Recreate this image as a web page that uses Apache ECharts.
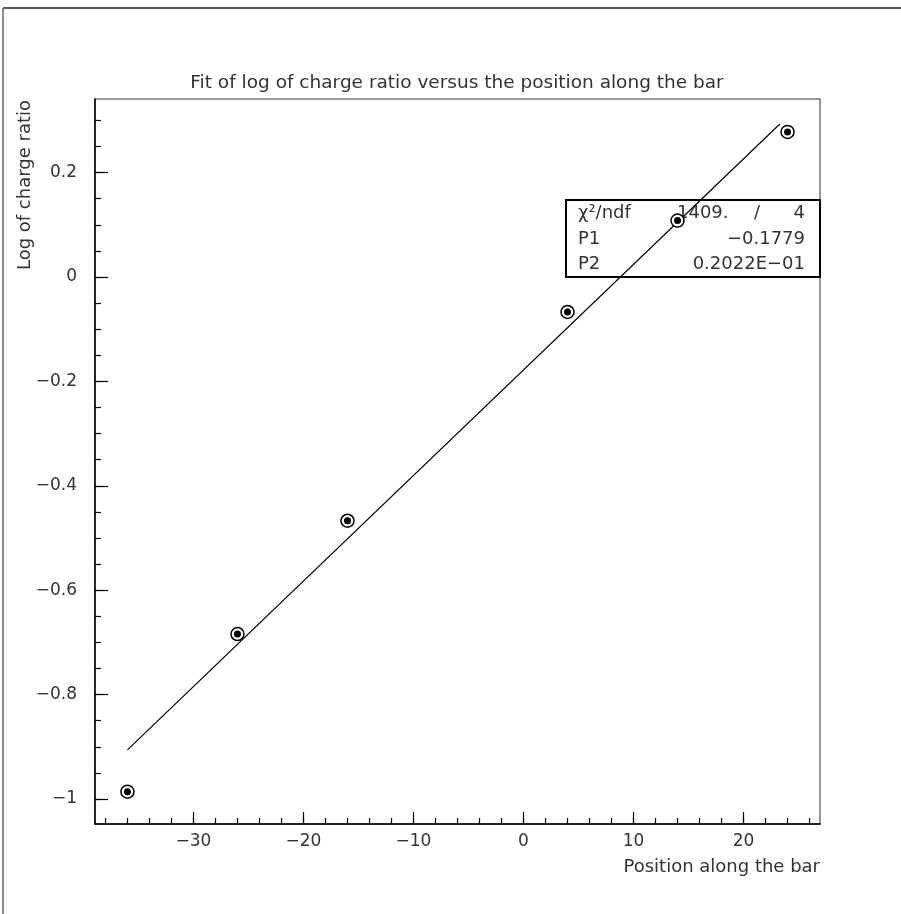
<!DOCTYPE html>
<html>
<head>
<meta charset="utf-8">
<script src="https://cdn.jsdelivr.net/npm/echarts@6/dist/echarts.min.js"></script>
<style>
  html, body { margin: 0; padding: 0; background: #fff; }
  #chart { width: 901px; height: 914px; }
</style>
</head>
<body>
<div id="chart"></div>
<script>
const chart = echarts.init(document.getElementById('chart'));

// measured points (position, log of charge ratio)
const positions = [-36, -26, -16, 4, 14, 24];
const logRatio = [-0.986, -0.684, -0.467, -0.067, 0.108, 0.278];
// fit line end points
const fitLine = [[-36, -0.906], [23.3, 0.293]];

// axis ticks
const xMajor = [-30, -20, -10, 0, 10, 20];
const xMinor = [-38, -36, -34, -32, -30, -28, -26, -24, -22, -20, -18, -16, -14, -12, -10, -8, -6, -4, -2,
    0, 2, 4, 6, 8, 10, 12, 14, 16, 18, 20, 22, 24, 26];
const yMajor = [-1, -0.8, -0.6, -0.4, -0.2, 0, 0.2];
const yMinor = [-1, -0.95, -0.9, -0.85, -0.8, -0.75, -0.7, -0.65, -0.6, -0.55, -0.5, -0.45, -0.4, -0.35,
    -0.3, -0.25, -0.2, -0.15, -0.1, -0.05, 0, 0.05, 0.1, 0.15, 0.2, 0.25, 0.3];

// fit statistics box
const statNames = ['χ²/ndf', 'P1', 'P2'];
const statValues = ['', '−0.1779', '0.2022E−01'];

const font = 'DejaVu Sans';
const txt = '#333';
const xRange = [-38.95, 26.95];
const yRange = [-1.048, 0.341];

const minus = v => String(v).replace('-', '−');

function boxText(x, y, text, align) {
    return {
        type: 'text', x: x, y: y,
        style: { text: text, font: '18px "DejaVu Sans"', fill: txt, align: align || 'left', verticalAlign: 'middle' }
    };
}

var option = {
    animation: false,
    grid: {
        left: 95,
        top: 99,
        right: 81,
        bottom: 90,
        show: true,
        borderColor: '#777',
        borderWidth: 1.5
    },
    xAxis: [{
        type: 'value',
        position: 'bottom',
        min: xRange[0],
        max: xRange[1],
        splitLine: { show: false },
        axisLine: { onZero: false, lineStyle: { color: '#000', width: 1.5 } },
        axisTick: { inside: true, length: 12, customValues: xMajor, lineStyle: { color: '#000', width: 1.2 } },
        axisLabel: {
            customValues: xMajor,
            margin: 9,
            fontFamily: font,
            fontSize: 17,
            color: txt,
            formatter: minus
        }
    }, {
        type: 'value',
        position: 'bottom',
        min: xRange[0],
        max: xRange[1],
        splitLine: { show: false },
        axisLine: { show: false, onZero: false },
        axisTick: { inside: true, length: 6, customValues: xMinor, lineStyle: { color: '#000', width: 1.2 } },
        axisLabel: { show: false }
    }],
    yAxis: [{
        type: 'value',
        position: 'left',
        min: yRange[0],
        max: yRange[1],
        splitLine: { show: false },
        axisLine: { onZero: false, lineStyle: { color: '#000', width: 1.5 } },
        axisTick: { inside: true, length: 13, customValues: yMajor, lineStyle: { color: '#000', width: 1.2 } },
        axisLabel: {
            customValues: yMajor,
            margin: 18,
            fontFamily: font,
            fontSize: 17,
            color: txt,
            formatter: minus
        }
    }, {
        type: 'value',
        position: 'left',
        min: yRange[0],
        max: yRange[1],
        splitLine: { show: false },
        axisLine: { show: false, onZero: false },
        axisTick: { inside: true, length: 6, customValues: yMinor, lineStyle: { color: '#000', width: 1.2 } },
        axisLabel: { show: false }
    }],
    graphic: [
        // page frame
        { type: 'line', shape: { x1: 3, y1: 8, x2: 901, y2: 8 }, style: { stroke: '#222', lineWidth: 1.5 } },
        { type: 'line', shape: { x1: 3, y1: 8, x2: 3, y2: 914 }, style: { stroke: '#666', lineWidth: 1.5 } },
        {
            type: 'text', x: 457, y: 83,
            style: {
                text: 'Fit of log of charge ratio versus the position along the bar',
                font: '18.5px "DejaVu Sans"', fill: txt, align: 'center', verticalAlign: 'middle'
            }
        },
        {
            type: 'text', x: 820, y: 867,
            style: { text: 'Position along the bar', font: '18px "DejaVu Sans"', fill: txt, align: 'right', verticalAlign: 'middle' }
        },
        {
            type: 'text', x: 25, y: 100, rotation: Math.PI / 2,
            style: { text: 'Log of charge ratio', font: '18px "DejaVu Sans"', fill: txt, align: 'right', verticalAlign: 'middle' }
        },
        // stats box
        {
            type: 'rect', shape: { x: 566, y: 200, width: 254, height: 77 },
            style: { fill: 'none', stroke: '#000', lineWidth: 2 }, z: 1
        },
        boxText(578, 213, statNames[0]),
        boxText(578, 239, statNames[1]),
        boxText(578, 264, statNames[2]),
        boxText(677, 213, '1409.'),
        boxText(757, 213, '/', 'center'),
        boxText(805, 213, '4', 'right'),
        boxText(805, 239, statValues[1], 'right'),
        boxText(805, 264, statValues[2], 'right')
    ],
    series: [{
        type: 'line',
        data: fitLine,
        showSymbol: false,
        lineStyle: { color: '#000', width: 1.2 },
        z: 3
    }, {
        type: 'scatter',
        data: positions.map((p, i) => [p, logRatio[i]]),
        symbol: 'circle',
        symbolSize: 13,
        itemStyle: { color: '#fff', borderColor: '#000', borderWidth: 1.5, opacity: 1 },
        z: 4
    }, {
        type: 'scatter',
        data: positions.map((p, i) => [p, logRatio[i]]),
        symbol: 'circle',
        symbolSize: 7,
        itemStyle: { color: '#000', opacity: 1 },
        z: 5
    }]
};

chart.setOption(option);
</script>
</body>
</html>
